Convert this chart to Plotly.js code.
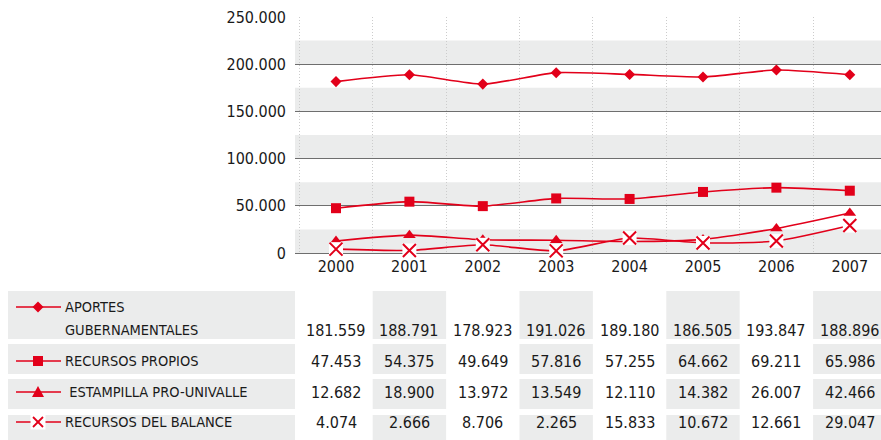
<!DOCTYPE html>
<html><head><meta charset="utf-8">
<script src="https://cdn.plot.ly/plotly-3.0.1.min.js"></script>
<style>html,body{margin:0;padding:0;background:#fff}#chart{width:881px;height:440px}</style>
</head><body><div id="chart"></div>
<script>
// ---- data ----
const years = ['2000','2001','2002','2003','2004','2005','2006','2007'];
const seriesLabels = [['APORTES','GUBERNAMENTALES'],['RECURSOS PROPIOS'],[' ESTAMPILLA PRO-UNIVALLE'],['RECURSOS DEL BALANCE']];
const aportes    = [181559,188791,178923,191026,189180,186505,193847,188896];
const propios    = [47453,54375,49649,57816,57255,64662,69211,65986];
const estampilla = [12682,18900,13972,13549,12110,14382,26007,42466];
const balance    = [4074,2666,8706,2265,15833,10672,12661,29047];
const yTicks     = [0,50000,100000,150000,200000,250000];

// ---- geometry helpers ----
const W=881,H=440,L=295,R=0,T=17,B=187;
const PW=W-L-R, PH=H-T-B;
const px = x => (x-L)/PW;
const py = y => (T+PH-y)/PH;
const RED='#e2001a';
const NUMF='DejaVu Sans Condensed, DejaVu Sans, sans-serif';
const LABF='DejaVu Sans Condensed, DejaVu Sans, sans-serif';
const TXT='#1a1a1a';
const GRAY='#ebecec';
const fmt = v => String(v).replace(/\B(?=(\d{3})+(?!\d))/g,'.');

const allSeries=[aportes,propios,estampilla,balance];
const line={color:RED,width:1.6,shape:'spline',smoothing:0.6};
const traces=[
 {x:years,y:aportes,mode:'lines+markers',line:line,marker:{symbol:'diamond',size:8.5,color:RED},cliponaxis:false},
 {x:years,y:propios,mode:'lines+markers',line:line,marker:{symbol:'square',size:10,color:RED},cliponaxis:false},
 {x:years,y:estampilla,mode:'lines+markers',line:line,marker:{symbol:'triangle-up',size:11,color:RED},cliponaxis:false},
 {x:years,y:balance,mode:'lines',line:line,cliponaxis:false},
 {x:years,y:balance,mode:'markers',marker:{symbol:'square',size:14,color:'#ffffff'},cliponaxis:false},
 {x:years,y:balance,mode:'markers',marker:{symbol:'x-thin',size:13,line:{color:RED,width:2}},cliponaxis:false}
];

// ---- table geometry ----
const rows=[[291,339],[344,374],[379,409],[415,440]];
const valY=[330,361,392,422];
const symY=[307,361,392,422];
const labelLineY=[[307,330],[361],[392],[422]];

const shapes=[];
for(let i=0;i<yTicks.length-1;i++){
  shapes.push({type:'rect',xref:'paper',yref:'y',x0:0,x1:1,y0:yTicks[i],y1:yTicks[i]+25000,fillcolor:GRAY,line:{width:0},layer:'below'});
}
rows.forEach(r=>{
  shapes.push({type:'rect',xref:'paper',yref:'paper',x0:px(8),x1:px(295),y0:py(r[1]),y1:py(r[0]),fillcolor:GRAY,line:{width:0},layer:'below'});
  years.forEach((yr,i)=>{ if(i%2===1){
    shapes.push({type:'rect',xref:'x',yref:'paper',x0:i-0.5,x1:i+0.5,y0:py(r[1]),y1:py(r[0]),fillcolor:GRAY,line:{width:0},layer:'below'});
  }});
});
const pPath = pts => 'M'+pts.map(p=>px(p[0])+','+py(p[1])).join(' L')+' Z';
symY.forEach((y,k)=>{
  shapes.push({type:'line',xref:'paper',yref:'paper',x0:px(16),x1:px(61),y0:py(y),y1:py(y),line:{color:RED,width:1.5}});
  const cx=38;
  if(k===0) shapes.push({type:'path',xref:'paper',yref:'paper',path:pPath([[cx,y-5.5],[cx+5.5,y],[cx,y+5.5],[cx-5.5,y]]),fillcolor:RED,line:{width:0}});
  if(k===1) shapes.push({type:'path',xref:'paper',yref:'paper',path:pPath([[cx-5,y-5],[cx+5,y-5],[cx+5,y+5],[cx-5,y+5]]),fillcolor:RED,line:{width:0}});
  if(k===2) shapes.push({type:'path',xref:'paper',yref:'paper',path:pPath([[cx,y-6],[cx+6,y+5],[cx-6,y+5]]),fillcolor:RED,line:{width:0}});
  if(k===3){
    shapes.push({type:'path',xref:'paper',yref:'paper',path:pPath([[cx-7.5,y-7.5],[cx+7.5,y-7.5],[cx+7.5,y+7.5],[cx-7.5,y+7.5]]),fillcolor:'#ffffff',line:{width:0}});
    shapes.push({type:'line',xref:'paper',yref:'paper',x0:px(cx-5),x1:px(cx+5),y0:py(y-5),y1:py(y+5),line:{color:RED,width:1.8}});
    shapes.push({type:'line',xref:'paper',yref:'paper',x0:px(cx-5),x1:px(cx+5),y0:py(y+5),y1:py(y-5),line:{color:RED,width:1.8}});
  }
});

const annotations=[];
allSeries.forEach((s,k)=>{
  s.forEach((v,i)=>{
    annotations.push({xref:'x',yref:'paper',x:i,y:py(valY[k]),text:fmt(v),showarrow:false,xanchor:'center',yanchor:'middle',font:{family:NUMF,size:16,color:TXT}});
  });
  seriesLabels[k].forEach((t,j)=>{
    annotations.push({xref:'paper',yref:'paper',x:px(63),y:py(labelLineY[k][j]),text:t.replace(/^ /,'&nbsp;'),showarrow:false,xanchor:'left',yanchor:'middle',font:{family:LABF,size:14.5,color:TXT}});
  });
});

const layout={
  width:W,height:H,margin:{l:L,r:R,t:T,b:B,pad:0},
  paper_bgcolor:'#ffffff',plot_bgcolor:'rgba(0,0,0,0)',
  showlegend:false,separators:',.',
  xaxis:{type:'category',range:[-0.5586,7.425],tickson:'boundaries',showgrid:true,gridcolor:'#cccccc',griddash:'1px,2px',gridwidth:1,
         ticks:'',showline:false,zeroline:false,tickfont:{family:NUMF,size:16,color:TXT},ticklabelstandoff:2,fixedrange:true},
  yaxis:{range:[0,250000],tickvals:yTicks,tickformat:',d',showgrid:true,gridcolor:'#6e6e6e',gridwidth:1,zeroline:true,zerolinecolor:'#6e6e6e',zerolinewidth:1,
         ticks:'',showline:false,tickfont:{family:NUMF,size:16,color:TXT},ticklabelstandoff:8,fixedrange:true},
  shapes:shapes,annotations:annotations
};
Plotly.newPlot('chart',traces,layout,{staticPlot:true,displayModeBar:false});
</script></body></html>
